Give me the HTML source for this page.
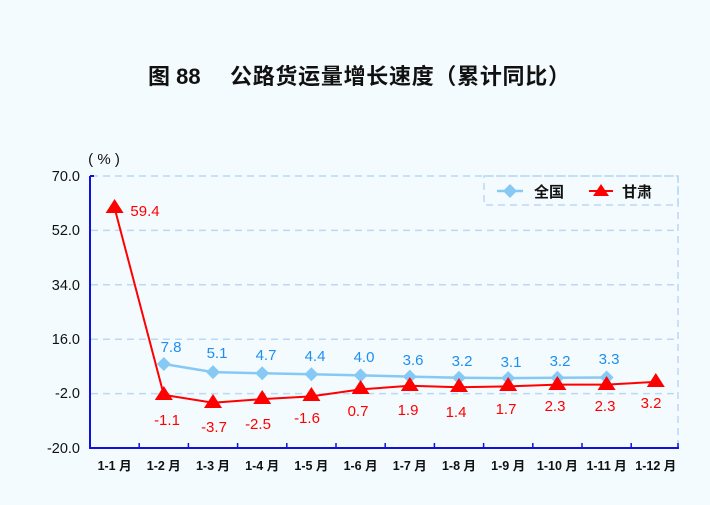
<!DOCTYPE html>
<html><head><meta charset="utf-8"><style>
body{margin:0;background:#f3fbfe;}
svg text{font-family:"Liberation Sans","Noto Sans CJK SC",sans-serif;}
</style></head><body>
<svg width="710" height="500" xmlns="http://www.w3.org/2000/svg">
<rect width="710" height="500" fill="#f3fbfe"/>
<text x="148" y="84" font-size="22" font-weight="bold" fill="#111">图 88</text>
<text x="230" y="84" font-size="22" font-weight="bold" fill="#111" textLength="340">公路货运量增长速度（累计同比）</text>
<text x="104" y="164" font-size="15" text-anchor="middle" fill="#111">(  %  )</text>
<g stroke="#bcd8f5" stroke-width="1.5" stroke-dasharray="7,5" fill="none">
<line x1="91" y1="176" x2="678" y2="176"/>
<line x1="91" y1="230.4" x2="678" y2="230.4"/>
<line x1="91" y1="284.8" x2="678" y2="284.8"/>
<line x1="91" y1="339.2" x2="678" y2="339.2"/>
<line x1="91" y1="393.6" x2="678" y2="393.6"/>
<line x1="678" y1="176" x2="678" y2="448"/>
<rect x="484" y="176" width="194" height="29"/>
</g>
<g font-size="14.5" fill="#111" text-anchor="end">
<text x="80" y="181">70.0</text><text x="80" y="235">52.0</text><text x="80" y="290">34.0</text><text x="80" y="344">16.0</text><text x="80" y="398">-2.0</text><text x="80" y="453">-20.0</text>
</g>
<line x1="90" y1="176" x2="90" y2="449" stroke="#1010e0" stroke-width="2"/>
<line x1="89" y1="448" x2="679" y2="448" stroke="#1010e0" stroke-width="2"/>
<line x1="90" y1="176" x2="94" y2="176" stroke="#1010e0" stroke-width="2"/>
<g stroke="#1010e0" stroke-width="1.5">
<line x1="139.2" y1="448" x2="139.2" y2="443"/><line x1="188.4" y1="448" x2="188.4" y2="443"/><line x1="237.6" y1="448" x2="237.6" y2="443"/><line x1="286.8" y1="448" x2="286.8" y2="443"/><line x1="336" y1="448" x2="336" y2="443"/><line x1="385.2" y1="448" x2="385.2" y2="443"/><line x1="434.4" y1="448" x2="434.4" y2="443"/><line x1="483.6" y1="448" x2="483.6" y2="443"/><line x1="532.8" y1="448" x2="532.8" y2="443"/><line x1="582" y1="448" x2="582" y2="443"/><line x1="631.2" y1="448" x2="631.2" y2="443"/><line x1="678" y1="448" x2="678" y2="443"/>
</g>
<g font-size="12.5" font-weight="bold" fill="#111" text-anchor="middle">
<text x="114.6" y="470">1-1 月</text><text x="163.8" y="470">1-2 月</text><text x="213" y="470">1-3 月</text><text x="262.2" y="470">1-4 月</text><text x="311.4" y="470">1-5 月</text><text x="360.6" y="470">1-6 月</text><text x="409.8" y="470">1-7 月</text><text x="459" y="470">1-8 月</text><text x="508.2" y="470">1-9 月</text><text x="557.4" y="470">1-10 月</text><text x="606.6" y="470">1-11 月</text><text x="655.8" y="470">1-12 月</text>
</g>
<polyline fill="none" stroke="#86c9f5" stroke-width="2.5" points="163.8,364 213,372.1 262.2,373.3 311.4,374.2 360.6,375.4 409.8,376.6 459,377.8 508.2,378.1 557.4,377.8 606.6,377.5"/>
<g fill="#86c9f5">
<path d="M163.8,357l7,7-7,7-7-7z"/><path d="M213,365.1l7,7-7,7-7-7z"/><path d="M262.2,366.3l7,7-7,7-7-7z"/><path d="M311.4,367.2l7,7-7,7-7-7z"/><path d="M360.6,368.4l7,7-7,7-7-7z"/><path d="M409.8,369.6l7,7-7,7-7-7z"/><path d="M459,370.8l7,7-7,7-7-7z"/><path d="M508.2,371.1l7,7-7,7-7-7z"/><path d="M557.4,370.8l7,7-7,7-7-7z"/><path d="M606.6,370.5l7,7-7,7-7-7z"/>
</g>
<g font-size="15" fill="#1e8ff0" text-anchor="middle">
<text x="171" y="352">7.8</text><text x="217" y="358">5.1</text><text x="266" y="360">4.7</text><text x="315" y="361">4.4</text><text x="364" y="362">4.0</text><text x="413" y="365">3.6</text><text x="462" y="366">3.2</text><text x="511" y="367">3.1</text><text x="560" y="366">3.2</text><text x="609" y="364">3.3</text>
</g>
<polyline fill="none" stroke="#f00" stroke-width="2" points="114.6,208 163.8,394.9 213,402.7 262.2,399.1 311.4,396.4 360.6,389.4 409.8,385.8 459,387.3 508.2,386.4 557.4,384.6 606.6,384.6 655.8,381.9"/>
<g fill="#f00">
<path d="M114.6,199l9,14h-18z"/><path d="M163.8,386l9,14h-18z"/><path d="M213,394l9,14h-18z"/><path d="M262.2,390l9,14h-18z"/><path d="M311.4,387l9,14h-18z"/><path d="M360.6,380l9,14h-18z"/><path d="M409.8,377l9,14h-18z"/><path d="M459,378l9,14h-18z"/><path d="M508.2,377l9,14h-18z"/><path d="M557.4,376l9,14h-18z"/><path d="M606.6,376l9,14h-18z"/><path d="M655.8,373l9,14h-18z"/>
</g>
<g font-size="15" fill="#f00" text-anchor="middle">
<text x="145" y="216">59.4</text><text x="167" y="425">-1.1</text><text x="214" y="432">-3.7</text><text x="258" y="429">-2.5</text><text x="307" y="423">-1.6</text><text x="358" y="416">0.7</text><text x="408" y="415">1.9</text><text x="456" y="417">1.4</text><text x="506" y="414">1.7</text><text x="555" y="411">2.3</text><text x="605" y="411">2.3</text><text x="651" y="408">3.2</text>
</g>
<line x1="497" y1="191" x2="523" y2="191" stroke="#86c9f5" stroke-width="2.5"/>
<path d="M510,184l7,7-7,7-7-7z" fill="#86c9f5"/>
<text x="534" y="197" font-size="15" font-weight="bold" fill="#111">全国</text>
<line x1="589" y1="191" x2="613" y2="191" stroke="#f00" stroke-width="2"/>
<path d="M601,184l8,12h-16z" fill="#f00"/>
<text x="622" y="197" font-size="15" font-weight="bold" fill="#111">甘肃</text>
</svg>
</body></html>
